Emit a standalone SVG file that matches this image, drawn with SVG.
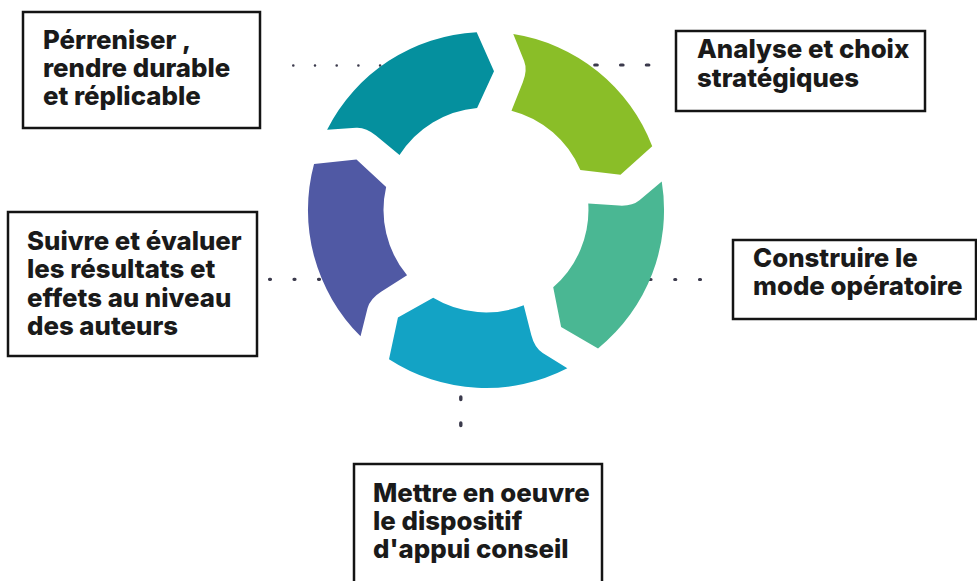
<svg xmlns="http://www.w3.org/2000/svg" xmlns:xlink="http://www.w3.org/1999/xlink" width="977" height="581" viewBox="0 0 977 581">
  <style>
    .box { fill: #ffffff; stroke: #141414; stroke-width: 2.5; }
    .lbl { font-family: Inter, "DejaVu Sans", "Liberation Sans", sans-serif; font-weight: 800; font-size: 25.8px; fill: #1a1a1a; }
    .dots { fill: none; stroke: #3b3a4c; stroke-linecap: round; }
  </style>
  <defs>
    <path id="seg" d="M-158.9,-80.3 A178,178 0 0 1 -9.3,-177.8 L8,-138.8 L-8.9,-102.1 A102.5,102.5 0 0 0 -86.5,-54.9 L-110.1,-74.5 Q-120.2,-82.9 -129.9,-82.3 Z"/>
  </defs>
  <rect x="0" y="0" width="977" height="581" fill="#ffffff"/>

  <g id="connectors">
    <path class="dots" d="M293.3,65.5 H380.2" stroke-width="2.6" stroke-dasharray="0 21.7"/>
    <path class="dots" d="M594.75,65 H649" stroke-width="3.2" stroke-dasharray="2.5 23.3"/>
    <path class="dots" d="M269.5,279.3 H320" stroke-width="3.2" stroke-dasharray="1 23.5"/>
    <path class="dots" d="M650,279.5 H701" stroke-width="3.2" stroke-dasharray="1 23.75"/>
    <path class="dots" d="M460.8,397 V426" stroke-width="3.4" stroke-dasharray="2.5 23.5"/>
  </g>

  <g id="node-perenniser">
    <use xlink:href="#seg" href="#seg" transform="translate(486 210)" fill="#05909E"/>
    <rect class="box" x="23" y="12" width="237" height="116"/>
    <text class="lbl" x="43" y="48.5">Pérreniser ,</text>
    <text class="lbl" x="43" y="76.8">rendre durable</text>
    <text class="lbl" x="43" y="105">et réplicable</text>
  </g>

  <g id="node-analyse">
    <use xlink:href="#seg" href="#seg" transform="translate(486 210) rotate(72)" fill="#8ABE28"/>
    <rect class="box" x="676" y="31" width="249" height="80"/>
    <text class="lbl" x="697" y="58">Analyse et choix</text>
    <text class="lbl" x="697" y="86.5">stratégiques</text>
  </g>

  <g id="node-construire">
    <use xlink:href="#seg" href="#seg" transform="translate(486 210) rotate(144)" fill="#4AB793"/>
    <rect class="box" x="733" y="240" width="243" height="79"/>
    <text class="lbl" x="753" y="266.5">Construire le</text>
    <text class="lbl" x="753" y="295">mode opératoire</text>
  </g>

  <g id="node-mettre">
    <use xlink:href="#seg" href="#seg" transform="translate(486 210) rotate(216)" fill="#13A3C5"/>
    <rect class="box" x="354" y="464" width="248" height="130"/>
    <text class="lbl" x="373" y="501.5">Mettre en oeuvre</text>
    <text class="lbl" x="373" y="530">le dispositif</text>
    <text class="lbl" x="373" y="558.3">d'appui conseil</text>
  </g>

  <g id="node-suivre">
    <use xlink:href="#seg" href="#seg" transform="translate(486 210) rotate(288)" fill="#5059A4"/>
    <rect class="box" x="8" y="212" width="249" height="144"/>
    <text class="lbl" x="27" y="250">Suivre et évaluer</text>
    <text class="lbl" x="27" y="278.3">les résultats et</text>
    <text class="lbl" x="27" y="306.6">effets au niveau</text>
    <text class="lbl" x="27" y="335">des auteurs</text>
  </g>
</svg>
